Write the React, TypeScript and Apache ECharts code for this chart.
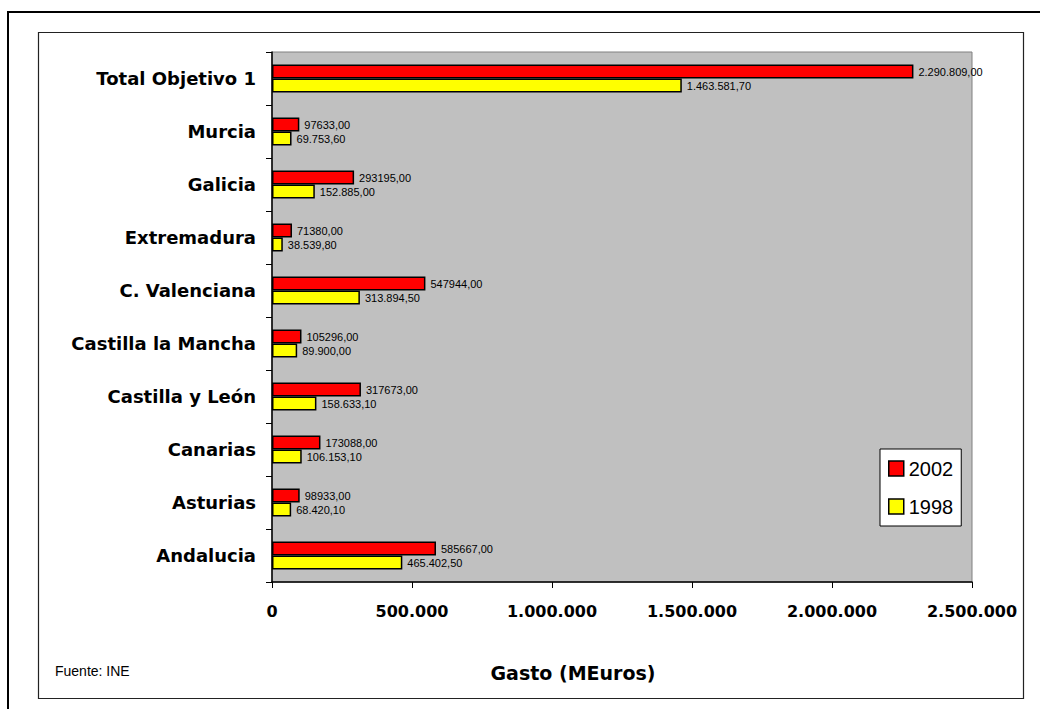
import React, { useEffect, useRef } from "react";
import * as echarts from "echarts";

const categories = [
  "Andalucia",
  "Asturias",
  "Canarias",
  "Castilla y León",
  "Castilla la Mancha",
  "C. Valenciana",
  "Extremadura",
  "Galicia",
  "Murcia",
  "Total Objetivo 1",
];
const values2002 = [585667, 98933, 173088, 317673, 105296, 547944, 71380, 293195, 97633, 2290809];
const values1998 = [465402.5, 68420.1, 106153.1, 158633.1, 89900, 313894.5, 38539.8, 152885, 69753.6, 1463581.7];
const labels2002 = [
  "585667,00",
  "98933,00",
  "173088,00",
  "317673,00",
  "105296,00",
  "547944,00",
  "71380,00",
  "293195,00",
  "97633,00",
  "2.290.809,00",
];
const labels1998 = [
  "465.402,50",
  "68.420,10",
  "106.153,10",
  "158.633,10",
  "89.900,00",
  "313.894,50",
  "38.539,80",
  "152.885,00",
  "69.753,60",
  "1.463.581,70",
];
const seriesNames = ["2002", "1998"];
const xMin = 0;
const xMax = 2500000;
const xInterval = 500000;
const axisTitle = "Gasto (MEuros)";
const sourceNote = "Fuente: INE";

function fmtThousands(v: number): string {
  return String(Math.round(v)).replace(/\B(?=(\d{3})+(?!\d))/g, ".");
}

export default function App() {
  const ref = useRef<HTMLDivElement>(null);
  useEffect(() => {
    if (!ref.current) return;
    const chart = echarts.init(ref.current, null, { renderer: "svg" });
    const labelStyle = {
      show: true,
      position: "right" as const,
      distance: 5,
      fontSize: 11,
      fontFamily: "Liberation Sans, Arial, sans-serif",
      color: "#000",
    };
    chart.setOption({
      animation: false,
      backgroundColor: "#fff",
      grid: {
        left: 272,
        right: 68,
        top: 52,
        bottom: 127,
        show: true,
        backgroundColor: "#C0C0C0",
        borderColor: "#808080",
        borderWidth: 1,
      },
      legend: {
        orient: "vertical",
        left: 880,
        top: 449,
        data: seriesNames,
        backgroundColor: "#fff",
        borderColor: "#000",
        borderWidth: 1,
        borderRadius: 0,
        padding: [9, 8, 9, 8],
        itemGap: 17,
        itemWidth: 15,
        itemHeight: 15,
        icon: "rect",
        itemStyle: { borderColor: "#000", borderWidth: 1.5 },
        textStyle: {
          fontSize: 20,
          fontFamily: "Liberation Sans, Arial, sans-serif",
          color: "#000",
          lineHeight: 21,
        },
      },
      xAxis: {
        type: "value",
        min: xMin,
        max: xMax,
        interval: xInterval,
        splitLine: { show: false },
        axisLine: { show: true, lineStyle: { color: "#000", width: 1.5 } },
        axisTick: { show: true, length: 6, lineStyle: { color: "#000", width: 1 } },
        axisLabel: {
          margin: 21,
          fontSize: 16,
          fontWeight: "bold",
          fontFamily: "DejaVu Sans, sans-serif",
          color: "#000",
          formatter: (v: number) => fmtThousands(v),
        },
      },
      yAxis: {
        type: "category",
        data: categories,
        axisLine: { show: true, lineStyle: { color: "#000", width: 1.5 } },
        axisTick: { show: true, length: 6, lineStyle: { color: "#000", width: 1 } },
        axisLabel: {
          margin: 16,
          fontSize: 18,
          fontWeight: "bold",
          fontFamily: "DejaVu Sans, sans-serif",
          color: "#000",
        },
      },
      series: [
        {
          name: seriesNames[0],
          type: "bar",
          data: values2002,
          barWidth: 14,
          barGap: "0%",
          itemStyle: { color: "#FF0000", borderColor: "#000", borderWidth: 1.5 },
          label: { ...labelStyle, formatter: (p: any) => labels2002[p.dataIndex] },
        },
        {
          name: seriesNames[1],
          type: "bar",
          data: values1998,
          barWidth: 14,
          barGap: "0%",
          itemStyle: { color: "#FFFF00", borderColor: "#000", borderWidth: 1.5 },
          label: { ...labelStyle, formatter: (p: any) => labels1998[p.dataIndex] },
        },
      ],
      graphic: [
        {
          type: "rect",
          shape: { x: 8, y: 12, width: 1060, height: 720 },
          style: { fill: "none", stroke: "#000", lineWidth: 2 },
          silent: true,
        },
        {
          type: "rect",
          shape: { x: 38.5, y: 32.5, width: 985, height: 666 },
          style: { fill: "none", stroke: "#222", lineWidth: 1.2 },
          silent: true,
        },
        {
          type: "text",
          x: 573,
          y: 673,
          style: {
            text: axisTitle,
            fontSize: 19,
            fontWeight: "bold",
            fontFamily: "DejaVu Sans, sans-serif",
            fill: "#000",
            align: "center",
            verticalAlign: "middle",
          },
        },
        {
          type: "text",
          x: 55,
          y: 671,
          style: {
            text: sourceNote,
            fontSize: 14,
            fontFamily: "Liberation Sans, Arial, sans-serif",
            fill: "#000",
            align: "left",
            verticalAlign: "middle",
          },
        },
      ],
    });
    return () => chart.dispose();
  }, []);
  return (
    <div
      ref={ref}
      style={{ position: "fixed", left: 0, top: 0, width: 1040, height: 709 }}
    />
  );
}
